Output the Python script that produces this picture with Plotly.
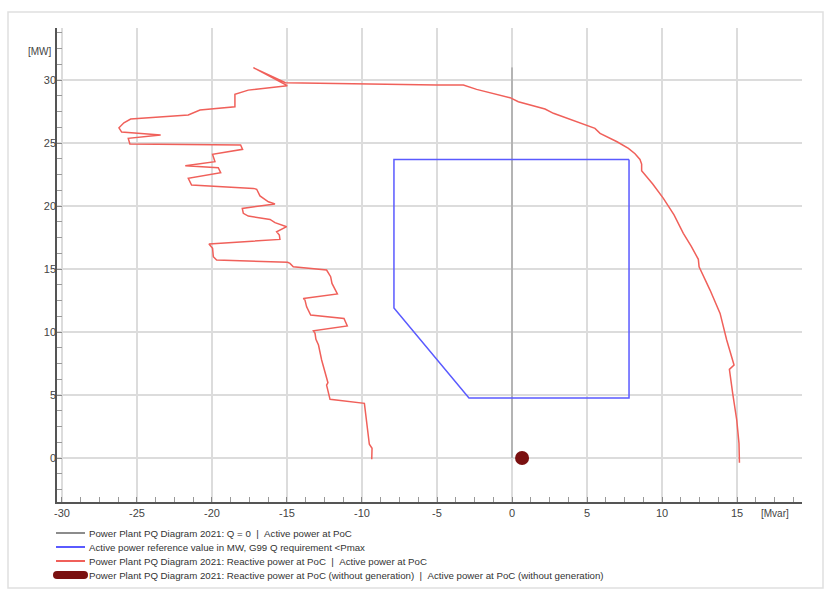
import plotly.graph_objects as go

# Q = 0 reference line
q0_x = [0, 0]
q0_p = [0, 31.0]

# G99 requirement polygon
g99_q = [7.8, -7.87, -7.87, -2.87, 7.8, 7.8]
g99_p = [23.7, 23.7, 11.9, 4.76, 4.76, 23.7]

# Measured PQ curve (reactive power Mvar, active power MW)
pq_q = [-9.35, -9.33, -9.51, -9.69, -9.84, -12.13, -12.24, -12.36, -12.27, -12.69,
        -12.9, -13.07, -13.13, -13.24, -10.98, -11.2, -13.42, -13.69, -13.8, -13.91,
        -11.64, -12.0, -12.09, -12.36, -14.58, -14.8, -14.96, -19.69, -19.91, -19.96,
        -20.2, -15.47, -15.51, -15.69, -15.02, -15.4, -15.8, -16.13, -17.58, -17.91,
        -17.98, -15.8, -16.24, -16.8, -16.96, -17.02, -17.24, -21.36, -21.58, -19.42,
        -19.58, -21.78, -19.8, -19.96, -17.96, -18.09, -25.47, -25.58, -23.42, -26.02,
        -26.2, -25.87, -25.42, -21.58, -20.8, -18.47, -18.47, -17.58, -14.98, -17.24,
        -15.1, -10.02, -5.02, -3.24, -2.36, -0.13, 0.42, 2.2, 2.76, 5.53,
        5.87, 7.0, 7.76, 8.2, 8.53, 8.64, 8.64, 9.38, 10.09, 10.8, 11.42, 11.95, 12.42, 12.47, 13.2,
        13.87, 14.31, 14.8, 14.49, 14.71, 14.98, 15.13, 15.16]
pq_p = [-0.1, 0.77, 1.09, 2.75, 4.34, 4.66, 5.26, 5.79, 5.98, 7.78,
        8.97, 9.42, 9.9, 10.1, 10.48, 11.08, 11.35, 12.0, 12.54, 12.67,
        13.02, 13.86, 14.39, 14.92, 15.18, 15.45, 15.53, 15.71, 15.98, 16.64,
        16.98, 17.35, 17.7, 17.96, 18.36, 18.49, 18.68, 18.94, 19.2, 19.42,
        19.81, 20.16, 20.34, 20.8, 21.13, 21.33, 21.4, 21.67, 22.2, 22.65,
        23.04, 23.2, 23.52, 24.1, 24.5, 24.84, 24.92, 25.37, 25.63, 25.87,
        26.21, 26.61, 26.9, 27.22, 27.62, 27.88, 28.86, 29.2, 29.55, 30.98,
        29.79, 29.68, 29.6, 29.6, 29.26, 28.6, 28.28, 27.7, 27.36, 26.16,
        25.77, 25.1, 24.58, 24.15, 23.7, 23.33, 22.8, 21.75, 20.61, 19.3, 17.83, 16.8, 15.77, 15.18, 13.33,
        11.48, 9.37, 7.38, 7.04, 5.13, 3.02, 1.16, -0.37]

# Operating point without generation
nogen_q = [0.67]
nogen_p = [0.0]

# Tick labels
x_ticks = [-30, -25, -20, -15, -10, -5, 0, 5, 10, 15]
x_ticklabels = ["-30", "-25", "-20", "-15", "-10", "-5", "0", "5", "10", "15"]
y_ticks = [0, 5, 10, 15, 20, 25, 30]
y_ticklabels = ["0", "5", "10", "15", "20", "25", "30"]

SEP = "\u00a0\u00a0|\u00a0\u00a0"
names = [
    "Power Plant PQ Diagram 2021: Q = 0" + SEP + "Active power at PoC",
    "Active power reference value in MW, G99 Q requirement <Pmax",
    "Power Plant PQ Diagram 2021: Reactive power at PoC" + SEP + "Active power at PoC",
    "Power Plant PQ Diagram 2021: Reactive power at PoC (without generation)" + SEP
    + "Active power at PoC (without generation)",
]
colors = ["#8c8c8c", "#5a5aff", "#f0605a", "#7a1010"]

FONT = "Arial, Liberation Sans, sans-serif"
fig = go.Figure()
fig.add_trace(go.Scatter(x=q0_x, y=q0_p, mode="lines", name=names[0],
                         line=dict(color=colors[0], width=1)))
fig.add_trace(go.Scatter(x=g99_q, y=g99_p, mode="lines", name=names[1],
                         line=dict(color=colors[1], width=1.5)))
fig.add_trace(go.Scatter(x=pq_q, y=pq_p, mode="lines", name=names[2],
                         line=dict(color=colors[2], width=1.5)))
fig.add_trace(go.Scatter(x=nogen_q, y=nogen_p, mode="markers", name=names[3],
                         marker=dict(color=colors[3], size=14)))

W, H = 830, 596
L, R, T, B = 57, 28, 28, 94
PW, PH = W - L - R, H - T - B


def px(xp):
    return (xp - L) / PW


def py(yp):
    return (H - B - yp) / PH


axis_common = dict(
    showline=True, linecolor="#555555", linewidth=1.5, mirror=False,
    showgrid=True, gridcolor="#dcdcdc", gridwidth=1.5, zeroline=False,
    ticks="inside", ticklen=5, tickcolor="#888888",
    tickfont=dict(family=FONT, size=11, color="#444444"),
    minor=dict(dtick=1.25, tick0=0, ticks="inside", ticklen=5, tickcolor="#999999",
               showgrid=False),
)

# manual legend (compact row spacing like the reference)
rows_y = [533, 547, 561, 575]
shapes = [
    dict(type="rect", xref="paper", yref="paper",
         x0=px(8), x1=px(823), y0=py(588), y1=py(12),
         line=dict(color="#e0e0e0", width=1.5), layer="below"),
]
annotations = [
    dict(text="[MW]", xref="paper", yref="y", x=0, y=32.3, xanchor="right",
         xshift=-3, showarrow=False, font=dict(family=FONT, size=10, color="#444444")),
    dict(text="[Mvar]", xref="x", yref="paper", x=17.5, y=0, yanchor="top",
         yshift=-4, showarrow=False, font=dict(family=FONT, size=10, color="#444444")),
]
for i, ry in enumerate(rows_y):
    if i < 3:
        shapes.append(dict(type="line", xref="paper", yref="paper",
                           x0=px(56), x1=px(85), y0=py(ry), y1=py(ry),
                           line=dict(color=colors[i], width=2)))
    else:
        x0, x1, y0, y1, r = 53, 88, ry - 4, ry + 4, 4
        pts = [(x0 + r, y0), (x1 - r, y0), (x1, y0), (x1, ry), (x1, y1), (x1 - r, y1),
               (x0 + r, y1), (x0, y1), (x0, ry), (x0, y0), (x0 + r, y0)]
        p = [(px(a), py(b)) for a, b in pts]
        path = (f"M {p[0][0]},{p[0][1]} L {p[1][0]},{p[1][1]} "
                f"Q {p[2][0]},{p[2][1]} {p[3][0]},{p[3][1]} "
                f"Q {p[4][0]},{p[4][1]} {p[5][0]},{p[5][1]} "
                f"L {p[6][0]},{p[6][1]} "
                f"Q {p[7][0]},{p[7][1]} {p[8][0]},{p[8][1]} "
                f"Q {p[9][0]},{p[9][1]} {p[10][0]},{p[10][1]} Z")
        shapes.append(dict(type="path", xref="paper", yref="paper", path=path,
                           fillcolor=colors[i], line=dict(width=0)))
    annotations.append(dict(text=names[i], xref="paper", yref="paper",
                            x=px(89), y=py(ry), xanchor="left", yanchor="middle",
                            xshift=-2, showarrow=False,
                            font=dict(family=FONT, size=9.7, color="#333333")))

fig.update_layout(
    width=W, height=H,
    margin=dict(l=L, r=R, t=T, b=B, autoexpand=False),
    paper_bgcolor="white", plot_bgcolor="white",
    font=dict(family=FONT, size=11, color="#333333"),
    xaxis=dict(range=[-30.33, 19.33], tickvals=x_ticks, ticktext=x_ticklabels,
               **axis_common),
    yaxis=dict(range=[-3.49, 34.13], tickvals=y_ticks, ticktext=y_ticklabels,
               ticklabelstandoff=-3, **axis_common),
    showlegend=False,
    annotations=annotations,
    shapes=shapes,
)
fig.write_html("out.html")
